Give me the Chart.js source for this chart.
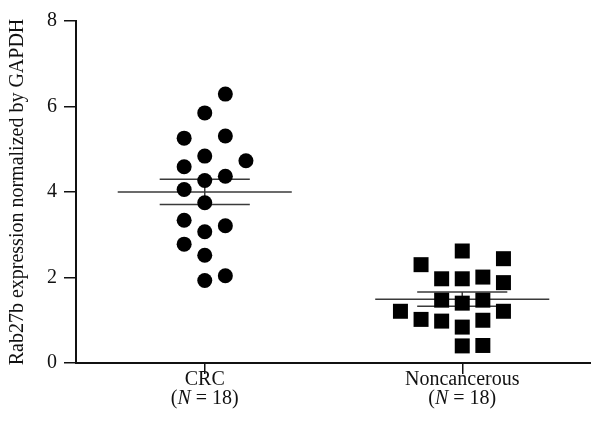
<!DOCTYPE html>
<html>
<head>
<meta charset="utf-8">
<script src="https://cdn.jsdelivr.net/npm/chart.js@4.4.1/dist/chart.umd.min.js"></script>
<style>
html, body { margin: 0; padding: 0; background: #fff; }
#wrap { width: 591px; height: 425px; }
</style>
</head>
<body>
<div id="wrap"><canvas id="dotChart"></canvas></div>
<script>

// groups
const groups = ['CRC', 'Noncancerous'];
const groupN = [18, 18];

// CRC values and the jitter column each dot sits in
const crcValues =  [6.29, 5.85, 5.26, 5.31, 4.84, 4.59, 4.73, 4.37, 4.27, 4.06, 3.75, 3.34, 3.21, 3.07, 2.78, 2.52, 1.93, 2.04];
const crcColumns = [1,    0,    -1,   1,    0,    -1,   2,    1,    0,    -1,   0,    -1,   1,    0,    -1,   0,    0,    1];

// Noncancerous values and columns
const nonValues =  [2.62, 2.30, 2.44, 1.97, 1.97, 2.01, 1.88, 1.47, 1.40, 1.47, 1.21, 1.21, 1.02, 0.98, 1.00, 0.84, 0.40, 0.41];
const nonColumns = [0,    -2,   2,    -1,   0,    1,    2,    -1,   0,    1,    -3,   2,    -2,   -1,   1,    0,    0,    1];

// mean and SEM
const means = [4.00, 1.49];
const semHigh = [4.30, 1.66];
const semLow = [3.71, 1.33];

const yTicks = [0, 2, 4, 6, 8];

const colStep = 0.08;
const meanHalf = 0.338;
const capHalf = 0.175;
const serif = "'Liberation Serif', 'DejaVu Serif', serif";
const fs = 20;

function dots(values, columns, pos){
  return values.map((v, i) => ({x: pos + columns[i] * colStep, y: v}));
}

function statLines(){
  let sets = [];
  groups.forEach((g, i) => {
    const pos = i + 1;
    const segs = [
      [{x: pos - meanHalf, y: means[i]}, {x: pos + meanHalf, y: means[i]}],
      [{x: pos - capHalf, y: semHigh[i]}, {x: pos + capHalf, y: semHigh[i]}],
      [{x: pos - capHalf, y: semLow[i]}, {x: pos + capHalf, y: semLow[i]}],
      [{x: pos, y: semLow[i]}, {x: pos, y: semHigh[i]}]
    ];
    segs.forEach(s => {
      sets.push({
        type: 'line',
        data: s,
        showLine: true,
        borderColor: '#3a3a3a',
        borderWidth: 1.5,
        pointRadius: 0,
        fill: false,
        order: 1
      });
    });
  });
  return sets;
}

const xLabels = {
  id: 'xLabels',
  afterDraw(chart){
    const ctx = chart.ctx;
    const sx = chart.scales.x;
    const base = chart.chartArea.bottom;
    ctx.save();
    ctx.fillStyle = '#111';
    ctx.textBaseline = 'alphabetic';
    groups.forEach((g, i) => {
      const cx = sx.getPixelForValue(i + 1);
      ctx.font = fs + 'px ' + serif;
      ctx.textAlign = 'center';
      ctx.fillText(g, cx, base + 22);
      // second line with italic N
      const a = '(';
      const b = 'N';
      const c = ' = ' + groupN[i] + ')';
      ctx.font = fs + 'px ' + serif;
      const wa = ctx.measureText(a).width;
      const wc = ctx.measureText(c).width;
      ctx.font = 'italic ' + fs + 'px ' + serif;
      const wb = ctx.measureText(b).width;
      let x0 = cx - (wa + wb + wc) / 2;
      ctx.textAlign = 'left';
      ctx.font = fs + 'px ' + serif;
      ctx.fillText(a, x0, base + 41);
      ctx.font = 'italic ' + fs + 'px ' + serif;
      ctx.fillText(b, x0 + wa, base + 41);
      ctx.font = fs + 'px ' + serif;
      ctx.fillText(c, x0 + wa + wb, base + 41);
    });
    ctx.restore();
  }
};

new Chart(document.getElementById('dotChart'), {
  type: 'scatter',
  data: {
    datasets: [
      {
        label: groups[0],
        data: dots(crcValues, crcColumns, 1),
        pointStyle: 'circle',
        pointRadius: 7.5,
        pointHoverRadius: 7.5,
        backgroundColor: '#000',
        borderColor: '#000',
        borderWidth: 0,
        order: 0
      },
      {
        label: groups[1],
        data: dots(nonValues, nonColumns, 2),
        pointStyle: 'rect',
        pointRadius: 10.6,
        pointHoverRadius: 10.6,
        backgroundColor: '#000',
        borderColor: '#000',
        borderWidth: 0,
        order: 0
      },
      ...statLines()
    ]
  },
  options: {
    responsive: true,
    maintainAspectRatio: false,
    animation: false,
    layout: { autoPadding: false, padding: { top: 21, right: 0, left: 0, bottom: 0 } },
    plugins: {
      legend: { display: false },
      tooltip: { enabled: false }
    },
    scales: {
      x: {
        type: 'linear',
        min: 0.5,
        max: 2.5,
        afterBuildTicks: s => { s.ticks = groups.map((g, i) => ({value: i + 1})); },
        afterFit: s => { s.height = 62; },
        ticks: { display: false },
        grid: { drawOnChartArea: false, drawTicks: true, tickLength: 11, color: '#111', lineWidth: 1.5 },
        border: { display: true, color: '#111', width: 2 }
      },
      y: {
        min: 0,
        max: 8,
        afterBuildTicks: s => { s.ticks = yTicks.map(v => ({value: v})); },
        afterFit: s => { s.width = 76; },
        ticks: {
          color: '#111',
          padding: 7,
          font: { family: serif, size: fs }
        },
        grid: { drawOnChartArea: false, drawTicks: true, tickLength: 12, color: '#111', lineWidth: 1.5 },
        border: { display: true, color: '#111', width: 2 },
        title: {
          display: true,
          text: 'Rab27b expression normalized by GAPDH',
          color: '#111',
          font: { family: serif, size: 20 },
          padding: { top: 6, bottom: 0 }
        }
      }
    }
  },
  plugins: [xLabels]
});
</script>
</body>
</html>
